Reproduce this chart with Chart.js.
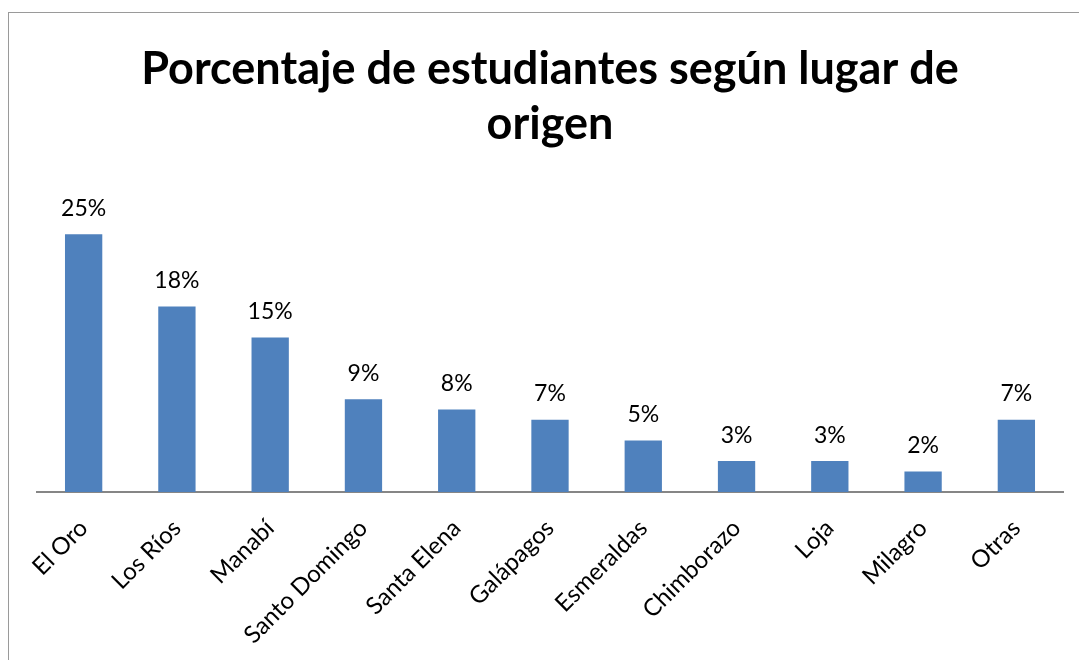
<!DOCTYPE html>
<html>
<head>
<meta charset="utf-8">
<script src="https://cdn.jsdelivr.net/npm/chart.js@4/dist/chart.umd.min.js"></script>
<style>
  html, body { margin: 0; padding: 0; background: #fff; }
  #wrap { position: relative; width: 1079px; height: 660px; overflow: hidden; }
  #frame { position: absolute; left: 8px; top: 12px; width: 1200px; height: 800px; border: 1.5px solid #9a9a9a; box-sizing: border-box; }
  #c { position: absolute; left: 0; top: 0; }
</style>
</head>
<body>
<div id="wrap">
  <div id="frame"></div>
  <canvas id="c" width="1079" height="660"></canvas>
</div>
<script>
const titleLines = ['Porcentaje de estudiantes según lugar de', 'origen'];
const categories = ['El Oro', 'Los Ríos', 'Manabí', 'Santo Domingo', 'Santa Elena', 'Galápagos', 'Esmeraldas', 'Chimborazo', 'Loja', 'Milagro', 'Otras'];
const percentages = [25, 18, 15, 9, 8, 7, 5, 3, 3, 2, 7];

const valueLabels = {
  id: 'valueLabels',
  afterDatasetsDraw(chart) {
    const ctx = chart.ctx;
    const meta = chart.getDatasetMeta(0);
    ctx.save();
    ctx.font = '23px Lato';
    ctx.fillStyle = '#000';
    ctx.textAlign = 'center';
    ctx.textBaseline = 'middle';
    meta.data.forEach((bar, i) => {
      ctx.fillText(percentages[i] + '%', bar.x, bar.y - 26);
    });
    ctx.restore();
  }
};

new Chart(document.getElementById('c'), {
  type: 'bar',
  data: {
    labels: categories,
    datasets: [{
      data: percentages,
      backgroundColor: '#4F81BD',
      borderWidth: 0,
      categoryPercentage: 1,
      barPercentage: 0.4
    }]
  },
  options: {
    responsive: false,
    animation: false,
    devicePixelRatio: 1,
    layout: { padding: { left: 37, right: 16, top: 0, bottom: 0 } },
    plugins: {
      legend: { display: false },
      tooltip: { enabled: false },
      title: {
        display: true,
        text: titleLines,
        color: '#000',
        font: { family: 'Lato', size: 45, weight: 'bold', lineHeight: 1.22 },
        padding: { top: 42, bottom: 31 }
      }
    },
    scales: {
      x: {
        grid: { display: false },
        border: { display: true, color: '#868686', width: 2 },
        ticks: {
          color: '#000',
          font: { family: 'Lato', size: 24 },
          minRotation: 45,
          maxRotation: 45,
          autoSkip: false,
          padding: 14
        },
        afterFit(scale) { scale.height = 168; }
      },
      y: {
        display: false,
        min: 0,
        max: 30
      }
    }
  },
  plugins: [valueLabels]
});
</script>
</body>
</html>
